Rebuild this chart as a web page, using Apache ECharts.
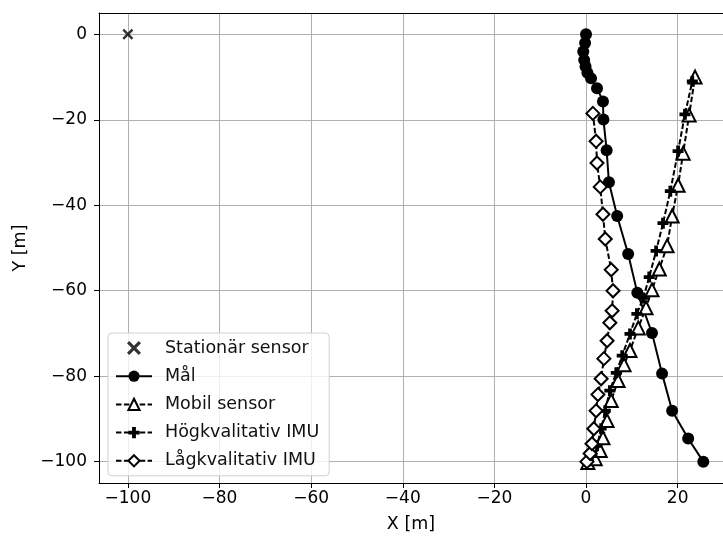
<!DOCTYPE html>
<html>
<head>
<meta charset="utf-8">
<script src="https://cdn.jsdelivr.net/npm/echarts@6/dist/echarts.min.js"></script>
<style>
  body { margin: 0; background: #fff; }
  #main { width: 723px; height: 538px; }
</style>
</head>
<body>
<div id="main"></div>
<script>
// stationary sensor
const stationX = [-100];
const stationY = [0];
// target (Mål)
const targetX = [0, -0.2, -0.6, -0.4, -0.1, 0.3, 1.1, 2.4, 3.7, 3.8, 4.5, 5.0, 6.8, 9.2, 11.2, 14.4, 16.6, 18.8, 22.3, 25.6];
const targetY = [0, -2, -4, -6, -7.5, -9, -10.3, -12.6, -15.7, -19.9, -27.1, -34.6, -42.5, -51.4, -60.5, -69.9, -79.4, -88.1, -94.6, -100];
// mobile sensor
const mobileX = [0.4, 2.0, 3.1, 3.7, 4.6, 5.5, 7.0, 8.3, 9.6, 11.4, 13.1, 14.4, 16.0, 17.7, 18.8, 20.1, 21.2, 22.5, 23.8];
const mobileY = [-100.2, -99.3, -97.4, -94.4, -90.4, -85.7, -81, -77.3, -74, -68.7, -64, -59.8, -54.9, -49.5, -42.5, -35.3, -27.8, -18.9, -10];
// high quality IMU
const highX = [0.2, 1.3, 2.4, 3.3, 4.2, 5.2, 6.6, 7.9, 9.6, 11.1, 12.5, 13.8, 15.3, 16.8, 18.4, 20.1, 21.6, 23.2];
const highY = [-100, -98.6, -96.3, -92.3, -88.1, -83.4, -79.2, -75.2, -70.1, -65.4, -61.7, -56.8, -50.7, -44.2, -36.7, -27.3, -18.7, -11];
// low quality IMU
const lowX = [0.2, 0.9, 1.3, 1.7, 2.2, 2.6, 3.3, 3.9, 4.6, 5.2, 5.7, 5.9, 5.5, 4.2, 3.7, 3.1, 2.4, 2.2, 1.5];
const lowY = [-100, -98.1, -95.8, -92.3, -88.1, -84.3, -80.6, -75.9, -71.7, -67.5, -64.7, -60, -55.1, -47.9, -42.1, -35.7, -30.1, -25, -18.5];

const xTicks = [-100, -80, -60, -40, -20, 0, 20];
const yTicks = [-100, -80, -60, -40, -20, 0];

function pairs(xs, ys) {
  return xs.map((x, i) => [x, ys[i]]);
}
function minus(v) {
  return String(v).replace('-', '\u2212');
}

const plusPath = 'path://M3.3,0H6.7V3.3H10V6.7H6.7V10H3.3V6.7H0V3.3H3.3Z';
const crossPath = 'path://M0,1.6L1.6,0L5,3.4L8.4,0L10,1.6L6.6,5L10,8.4L8.4,10L5,6.6L1.6,10L0,8.4L3.4,5Z';
const font = 'DejaVu Sans';
const dash = [5.5, 2.4];

const chart = echarts.init(document.getElementById('main'));
chart.setOption({
  animation: false,
  textStyle: { fontFamily: font },
  grid: { left: 99, right: 0, top: 13, bottom: 55, show: false },
  legend: {
    orient: 'vertical',
    left: 108, top: 333,
    padding: [6, 10, 6, 7],
    itemGap: 10.2,
    itemWidth: 36,
    itemHeight: 14,
    backgroundColor: 'rgba(255,255,255,0.8)',
    borderColor: '#d0d0d0',
    borderWidth: 1,
    borderRadius: 4,
    textStyle: { fontFamily: font, fontSize: 17.5, lineHeight: 18, color: '#111', padding: [0, 0, 0, 8] },
    data: ['Stationär sensor', 'Mål', 'Mobil sensor', 'Högkvalitativ IMU', 'Lågkvalitativ IMU']
  },
  xAxis: [{
    type: 'value',
    min: -106.3, max: 29.9,
    name: 'X [m]', nameLocation: 'middle', nameGap: 32,
    nameTextStyle: { fontFamily: font, fontSize: 17.5, color: '#000' },
    axisLine: { onZero: false, lineStyle: { color: '#000', width: 1 } },
    axisTick: { show: true, inside: false, length: 5, customValues: xTicks, lineStyle: { color: '#000' } },
    axisLabel: { customValues: xTicks, formatter: minus, fontFamily: font, fontSize: 17, color: '#000', margin: 7 },
    splitLine: { show: true, lineStyle: { color: '#b0b0b0', width: 1 } }
  }, {
    type: 'value', position: 'top',
    min: -106.3, max: 29.9,
    axisLine: { show: true, onZero: false, lineStyle: { color: '#000', width: 1 } },
    axisTick: { show: false }, axisLabel: { show: false }, splitLine: { show: false }
  }],
  yAxis: {
    type: 'value',
    min: -105, max: 5,
    name: 'Y [m]', nameLocation: 'middle', nameGap: 65, nameRotate: 90,
    nameTextStyle: { fontFamily: font, fontSize: 17.5, color: '#000' },
    axisLine: { onZero: false, lineStyle: { color: '#000', width: 1 } },
    axisTick: { show: true, inside: false, length: 5, customValues: yTicks, lineStyle: { color: '#000' } },
    axisLabel: { customValues: yTicks, formatter: minus, fontFamily: font, fontSize: 17, color: '#000', margin: 12 },
    splitLine: { show: true, lineStyle: { color: '#b0b0b0', width: 1 } }
  },
  series: [
    {
      name: 'Stationär sensor', type: 'scatter',
      symbol: crossPath, symbolSize: 11,
      itemStyle: { color: '#000' },
      data: pairs(stationX, stationY)
    },
    {
      name: 'Mål', type: 'line',
      symbol: 'circle', symbolSize: 12, showAllSymbol: true,
      itemStyle: { color: '#000' },
      lineStyle: { color: '#000', width: 2 },
      data: pairs(targetX, targetY)
    },
    {
      name: 'Mobil sensor', type: 'line',
      symbol: 'triangle', symbolSize: 13, showAllSymbol: true,
      itemStyle: { color: '#fff', borderColor: '#000', borderWidth: 2 },
      lineStyle: { color: '#000', width: 2, type: dash },
      data: pairs(mobileX, mobileY)
    },
    {
      name: 'Högkvalitativ IMU', type: 'line',
      symbol: plusPath, symbolSize: 11, showAllSymbol: true,
      itemStyle: { color: '#000' },
      lineStyle: { color: '#000', width: 2, type: dash },
      data: pairs(highX, highY)
    },
    {
      name: 'Lågkvalitativ IMU', type: 'line',
      symbol: 'diamond', symbolSize: 13, showAllSymbol: true,
      itemStyle: { color: '#fff', borderColor: '#000', borderWidth: 2 },
      lineStyle: { color: '#000', width: 2, type: dash },
      data: pairs(lowX, lowY)
    }
  ]
});
</script>
</body>
</html>
